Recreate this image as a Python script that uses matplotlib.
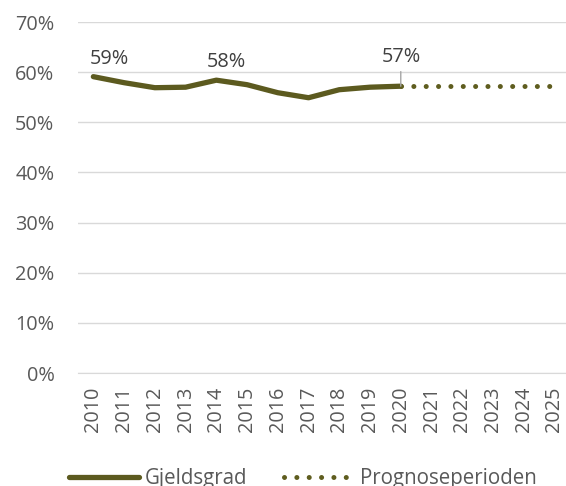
import matplotlib
matplotlib.use("Agg")
import matplotlib.pyplot as plt
from matplotlib.lines import Line2D

years = [str(y) for y in range(2010, 2026)]
gjeldsgrad = [59.1, 57.9, 56.9, 57.0, 58.4, 57.5, 55.9, 54.9, 56.5, 57.0, 57.2]
prognose = [57.2, 57.2, 57.2, 57.2, 57.2, 57.2]
yticks = [0, 10, 20, 30, 40, 50, 60, 70]
labels = {0: "59%", 4: "58%", 10: "57%"}

plt.rcParams['font.family'] = ['Open Sans', 'DejaVu Sans']
txt = '#595959'
solid_c = '#5c5a1f'
dot_c = '#5f5d1f'
FS = 14.3
FS_LEG = 14.8
dotstyle = (0, (0.01, 2.46))

fig = plt.figure(figsize=(5.66, 4.86), dpi=100)
ax = fig.add_axes([0.1378, 0.2325, 0.869, 0.7222])
x1 = list(range(len(gjeldsgrad)))
x2 = list(range(len(gjeldsgrad) - 1, len(gjeldsgrad) - 1 + len(prognose)))
ax.plot(x1, gjeldsgrad, color=solid_c, lw=3.8, solid_capstyle='round', solid_joinstyle='round', zorder=3)
ax.plot(x2, prognose, color=dot_c, lw=3.6, linestyle=dotstyle, dash_capstyle='round', zorder=3)

ax.set_xlim(-0.5, len(years) - 0.5)
ax.set_ylim(0, 70)
ax.set_yticks(yticks)
ax.set_yticklabels([f"{v}%" for v in yticks], color=txt, fontsize=FS)
ax.set_xticks(range(len(years)))
ax.set_xticklabels(years, rotation=90, color=txt, fontsize=FS)
ax.tick_params(axis='y', length=0, pad=17)
ax.tick_params(axis='x', length=0, pad=10)
ax.grid(axis='y', color='#d9d9d9', lw=1)
ax.set_axisbelow(True)
for s in ['top', 'right', 'left']:
    ax.spines[s].set_visible(False)
ax.spines['bottom'].set_color('#d9d9d9')

offsets = {0: (11.5, 13), 4: (7, 13), 10: (0.5, 21)}
for i, t in labels.items():
    dx, dy = offsets[i]
    ax.annotate(t, (i, gjeldsgrad[i]), xytext=(dx, dy), textcoords='offset points',
                ha='center', va='center', fontsize=FS, color='#404040')
    if i == 10:
        ax.annotate('', (i, gjeldsgrad[i]), xytext=(0, 10.5), textcoords='offset points',
                    arrowprops=dict(arrowstyle='-', color='#a6a6a6', lw=1, shrinkA=0, shrinkB=0))

handles = [Line2D([], [], color=solid_c, lw=3.8, solid_capstyle='round'),
           Line2D([], [], color=dot_c, lw=3.6, linestyle=dotstyle, dash_capstyle='round')]
fig.legend(handles, ['Gjeldsgrad', 'Prognoseperioden'], loc='center', bbox_to_anchor=(0.535, 0.016),
           ncol=2, frameon=False, fontsize=FS_LEG, labelcolor=txt, handlelength=3.4,
           columnspacing=1.8, handletextpad=0.3)

fig.savefig('out.png', dpi=100)
